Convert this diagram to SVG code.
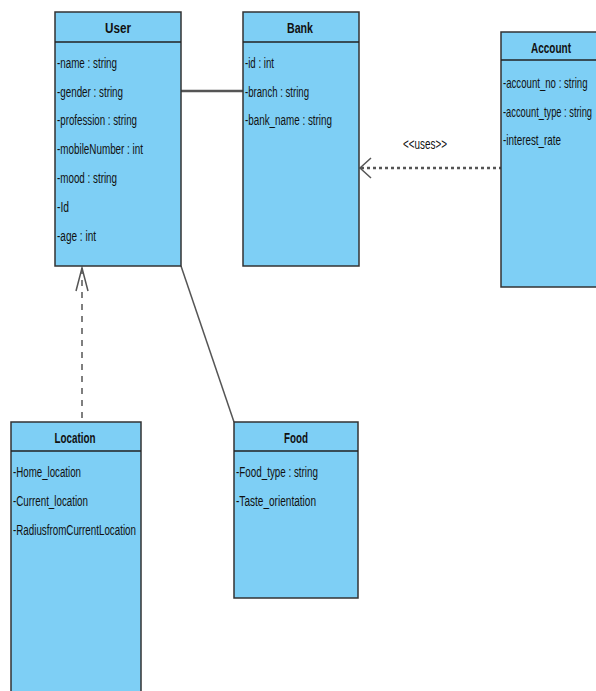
<svg xmlns="http://www.w3.org/2000/svg" width="596" height="691" viewBox="0 0 596 691">
<style>
.box{fill:#7ecff5;stroke:#333;stroke-width:1.5}
.sep{stroke:#222;stroke-width:1.5}
.t{font-family:"Liberation Sans",Arial,sans-serif;font-size:14px;fill:#111}
.h{font-family:"Liberation Sans",Arial,sans-serif;font-size:14px;font-weight:bold;fill:#111;text-anchor:middle}
.conn{fill:none;stroke:#555}
</style>
<rect width="596" height="691" fill="#fff"/>
<g id="connectors">
<line class="conn" x1="181" y1="91" x2="243" y2="91" stroke-width="2.5" stroke="#666"/>
<line class="conn" x1="181" y1="266" x2="234" y2="422" stroke-width="1.5"/>
<line class="conn" x1="82" y1="268" x2="82" y2="422" stroke-width="1.5" stroke-dasharray="6,6"/>
<polyline class="conn" points="76,291 82,268 88,291" stroke-width="1.5"/>
<line class="conn" x1="361" y1="168" x2="501" y2="168" stroke-width="2.5" stroke="#666" stroke-dasharray="3,3"/>
<polyline class="conn" points="371,158 360,168 371,178" stroke-width="1.5"/>
<text class="t" x="403" y="149" textLength="44" lengthAdjust="spacingAndGlyphs" font-size="12">&lt;&lt;uses&gt;&gt;</text>
</g>
<g id="User">
<rect class="box" x="55" y="12" width="126" height="254"/>
<line class="sep" x1="55" y1="42" x2="181" y2="42"/>
<text class="h" x="118" y="33" textLength="26" lengthAdjust="spacingAndGlyphs">User</text>
<text class="t" x="57" y="68" textLength="60" lengthAdjust="spacingAndGlyphs">-name : string</text>
<text class="t" x="57" y="97" textLength="66" lengthAdjust="spacingAndGlyphs">-gender : string</text>
<text class="t" x="57" y="125" textLength="80" lengthAdjust="spacingAndGlyphs">-profession : string</text>
<text class="t" x="57" y="154" textLength="86" lengthAdjust="spacingAndGlyphs">-mobileNumber : int</text>
<text class="t" x="57" y="183" textLength="60" lengthAdjust="spacingAndGlyphs">-mood : string</text>
<text class="t" x="57" y="212" textLength="12" lengthAdjust="spacingAndGlyphs">-Id</text>
<text class="t" x="57" y="241" textLength="39" lengthAdjust="spacingAndGlyphs">-age : int</text>
</g>
<g id="Bank">
<rect class="box" x="243" y="12" width="116" height="254"/>
<line class="sep" x1="243" y1="42" x2="359" y2="42"/>
<text class="h" x="300" y="33" textLength="26" lengthAdjust="spacingAndGlyphs">Bank</text>
<text class="t" x="245" y="68" textLength="29" lengthAdjust="spacingAndGlyphs">-id : int</text>
<text class="t" x="245" y="97" textLength="64" lengthAdjust="spacingAndGlyphs">-branch : string</text>
<text class="t" x="245" y="125" textLength="87" lengthAdjust="spacingAndGlyphs">-bank_name : string</text>
</g>
<g id="Account">
<rect class="box" x="501" y="32" width="100" height="255"/>
<line class="sep" x1="501" y1="60" x2="596" y2="60"/>
<text class="h" x="551" y="53" textLength="40" lengthAdjust="spacingAndGlyphs">Account</text>
<text class="t" transform="translate(503,88) scale(0.65,1)" x="0" y="0" textLength="130" lengthAdjust="spacingAndGlyphs">-account_no : string</text>
<text class="t" transform="translate(503,117) scale(0.65,1)" x="0" y="0" textLength="137" lengthAdjust="spacingAndGlyphs">-account_type : string</text>
<text class="t" x="503" y="145" textLength="58" lengthAdjust="spacingAndGlyphs">-interest_rate</text>
</g>
<g id="Location">
<rect class="box" x="11" y="422" width="130" height="280"/>
<line class="sep" x1="11" y1="451" x2="141" y2="451"/>
<text class="h" x="75" y="443" textLength="41" lengthAdjust="spacingAndGlyphs">Location</text>
<text class="t" x="13" y="477" textLength="68" lengthAdjust="spacingAndGlyphs">-Home_location</text>
<text class="t" x="13" y="506" textLength="75" lengthAdjust="spacingAndGlyphs">-Current_location</text>
<text class="t" x="13" y="535" textLength="123" lengthAdjust="spacingAndGlyphs">-RadiusfromCurrentLocation</text>
</g>
<g id="Food">
<rect class="box" x="234" y="422" width="124" height="176"/>
<line class="sep" x1="234" y1="451" x2="358" y2="451"/>
<text class="h" x="296" y="443" textLength="24" lengthAdjust="spacingAndGlyphs">Food</text>
<text class="t" x="236" y="477" textLength="82" lengthAdjust="spacingAndGlyphs">-Food_type : string</text>
<text class="t" x="236" y="506" textLength="80" lengthAdjust="spacingAndGlyphs">-Taste_orientation</text>
</g>
</svg>
